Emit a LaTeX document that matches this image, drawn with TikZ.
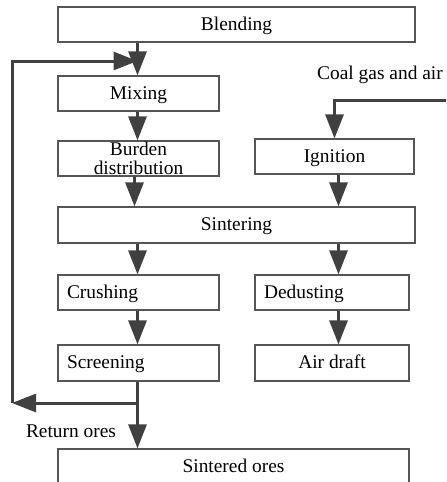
\documentclass[tikz,border=0pt]{standalone}
\usepackage{fontspec}
\setmainfont{Liberation Serif}
\usetikzlibrary{arrows.meta,positioning,calc}
\definecolor{flowgray}{HTML}{404040}
\definecolor{framegray}{HTML}{555555}
\tikzset{
	frame/.style={draw=framegray,line width=0.6pt,minimum height=17.5pt,inner sep=0pt,font=\fontsize{9.7}{11}\selectfont},
	stage/.style={frame,text height=7pt,text depth=1.5pt},
	leftstage/.style={stage,align=left,inner xsep=4.5pt,text width=#1},
	flow/.style={draw=flowgray,line width=1.5pt,-{Triangle[length=12pt,width=9pt]}},
	note/.style={inner sep=0pt,font=\fontsize{9.7}{11}\selectfont},
}
\begin{document}
\begin{tikzpicture}[x=0.5pt,y=-0.5pt]
	\useasboundingbox (0,0) rectangle (446,482);
	\clip (0,0) rectangle (446,482);
	% process stages
	\node[stage,minimum width=178.5pt] (blend) at (236.5,24.5) {Blending};
	\node[stage,minimum width=80.5pt] (mix) at (138.5,93.5) {Mixing};
	\node[frame,minimum width=80.5pt,align=center,execute at begin node=\setlength{\baselineskip}{9.5pt}] (burden) at (138.5,158.5) {Burden\\distribution};
	\node[stage,minimum width=79.5pt] (ignit) at (334.5,156.5) {Ignition};
	\node[stage,minimum width=178.5pt,minimum height=18pt] (sinter) at (236.5,225) {Sintering};
	\node[leftstage=71.5pt] (crush) at (138.5,292.5) {Crushing};
	\node[leftstage=68pt] (dedust) at (332,292.5) {Dedusting};
	\node[leftstage=71.5pt,minimum height=18pt] (screen) at (138.5,363) {Screening};
	\node[stage,minimum width=77pt,minimum height=18pt] (draft) at (332,363) {Air draft};
	\node[stage,minimum width=175.5pt] (ores) at (233.5,466.5) {Sintered ores};
	\node[note] (gas) at (380,75) {Coal gas and air};
	\node[note] (ret) at (71,431) {Return ores};
	% flows
	\coordinate (lcol) at (137.5,0);
	\coordinate (rcol) at (338.5,0);
	\draw[flow] (lcol |- blend.south) -- (lcol |- mix.north);
	\draw[flow] (lcol |- mix.south) -- (lcol |- burden.north);
	\draw[flow] ([xshift=-2pt]burden.south) -- ([xshift=-2pt]burden.south |- sinter.north);
	\draw[flow] (rcol |- ignit.south) -- (rcol |- sinter.north);
	\draw[flow] (lcol |- sinter.south) -- (lcol |- crush.north);
	\draw[flow] (rcol |- sinter.south) -- (rcol |- dedust.north);
	\draw[flow] (lcol |- crush.south) -- (lcol |- screen.north);
	\draw[flow] (rcol |- dedust.south) -- (rcol |- draft.north);
	\draw[flow] (lcol |- screen.south) -- (lcol |- ores.north);
	% return loop and gas feed
	\coordinate (split) at (137.5,403);
	\coordinate (back) at (12,403);
	\coordinate (up) at (12,61);
	\coordinate (merge) at (137.5,61);
	\draw[flow] (split) -- (back);
	\draw[flow] (back) -- (up) -- (merge);
	\coordinate (gasin) at (446,100);
	\draw[flow] (gasin) -| (ignit.north);
\end{tikzpicture}
\end{document}
